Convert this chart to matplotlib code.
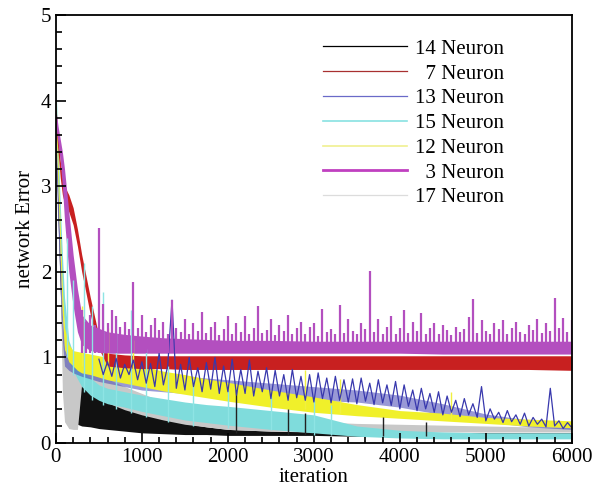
import numpy as np
import matplotlib
matplotlib.use('Agg')
import matplotlib.pyplot as plt
from matplotlib.lines import Line2D

plt.rcParams['font.family'] = ['Liberation Serif', 'DejaVu Serif']

iters = [0, 25, 50, 75, 100, 150, 200, 250, 300, 400, 500, 600, 800, 1000,
         1250, 1500, 1750, 2000, 2500, 3000, 3500, 4000, 4500, 5000, 5500, 6000]

# upper / lower edge of each noisy error trace
n14_hi = [3.9, 3.0, 2.2, 1.5, 1.1, 0.85, 0.80, 0.76, 0.72, 0.62, 0.55, 0.48, 0.40, 0.34,
          0.28, 0.23, 0.19, 0.16, 0.14, 0.13, 0.12, 0.12, 0.12, 0.12, 0.12, 0.12]
n14_lo = [3.6, 2.6, 1.8, 1.0, 0.5, 0.30, 0.25, 0.22, 0.20, 0.19, 0.17, 0.16, 0.14, 0.12,
          0.11, 0.10, 0.10, 0.09, 0.09, 0.09, 0.08, 0.08, 0.08, 0.08, 0.08, 0.08]

n7_hi = [3.9, 3.6, 3.3, 3.1, 3.0, 2.9, 2.75, 2.5, 2.2, 1.7, 1.25, 1.05, 1.03, 1.02,
         1.02, 1.02, 1.02, 1.02, 1.02, 1.02, 1.02, 1.02, 1.02, 1.02, 1.02, 1.02]
n7_lo = [3.7, 3.4, 3.1, 2.9, 2.8, 2.7, 2.55, 2.3, 2.0, 1.5, 1.1, 0.9, 0.88, 0.87,
         0.87, 0.86, 0.86, 0.86, 0.86, 0.86, 0.86, 0.86, 0.86, 0.86, 0.86, 0.85]

n13_hi = [3.6, 2.9, 2.2, 1.5, 1.1, 1.0, 0.95, 0.92, 0.90, 0.88, 0.86, 0.85, 0.84, 0.82,
          0.80, 0.78, 0.76, 0.74, 0.70, 0.66, 0.62, 0.56, 0.46, 0.34, 0.27, 0.21]
n13_lo = [3.2, 2.5, 1.8, 1.2, 0.9, 0.85, 0.82, 0.80, 0.78, 0.75, 0.72, 0.70, 0.66, 0.62,
          0.60, 0.58, 0.56, 0.55, 0.52, 0.50, 0.48, 0.42, 0.33, 0.25, 0.19, 0.16]

n15_hi = [4.2, 3.5, 2.8, 2.2, 1.7, 1.2, 1.05, 0.95, 0.85, 0.76, 0.68, 0.64, 0.60, 0.56,
          0.52, 0.48, 0.45, 0.43, 0.38, 0.33, 0.20, 0.15, 0.13, 0.12, 0.12, 0.12]
n15_lo = [3.8, 3.0, 2.3, 1.7, 1.3, 0.95, 0.85, 0.75, 0.66, 0.56, 0.50, 0.46, 0.42, 0.37,
          0.32, 0.27, 0.24, 0.21, 0.16, 0.12, 0.08, 0.06, 0.05, 0.05, 0.05, 0.05]

n12_hi = [4.1, 3.3, 2.5, 1.8, 1.35, 1.15, 1.08, 1.07, 1.06, 1.04, 1.02, 1.0, 0.95, 0.90,
          0.84, 0.80, 0.75, 0.71, 0.62, 0.54, 0.45, 0.38, 0.35, 0.30, 0.28, 0.26]
n12_lo = [3.8, 3.0, 2.2, 1.5, 1.1, 0.95, 0.9, 0.85, 0.82, 0.80, 0.77, 0.74, 0.70, 0.66,
          0.61, 0.57, 0.53, 0.49, 0.42, 0.36, 0.32, 0.29, 0.26, 0.23, 0.20, 0.18]

n3_hi = [3.9, 3.7, 3.55, 3.4, 3.2, 2.7, 2.2, 1.8, 1.5, 1.38, 1.34, 1.30, 1.27, 1.25,
         1.23, 1.22, 1.21, 1.20, 1.20, 1.19, 1.19, 1.19, 1.19, 1.19, 1.19, 1.19]
n3_lo = [3.7, 3.5, 3.3, 3.0, 2.6, 2.0, 1.6, 1.3, 1.15, 1.08, 1.06, 1.05, 1.05, 1.05,
         1.05, 1.05, 1.05, 1.05, 1.05, 1.05, 1.05, 1.05, 1.04, 1.04, 1.04, 1.04]

n17_hi = [4.0, 3.2, 2.3, 1.6, 1.2, 1.0, 0.95, 0.93, 0.90, 0.86, 0.80, 0.75, 0.66, 0.58,
          0.48, 0.40, 0.35, 0.31, 0.27, 0.25, 0.23, 0.22, 0.21, 0.20, 0.19, 0.18]
n17_lo = [3.5, 2.7, 1.9, 0.6, 0.25, 0.17, 0.16, 0.16, 0.70, 0.60, 0.53, 0.47, 0.39, 0.33,
          0.27, 0.22, 0.19, 0.16, 0.14, 0.14, 0.13, 0.13, 0.13, 0.13, 0.13, 0.13]

# 3 Neuron: peak of the trace every 50 iterations, from 300 to 6000
n3_peak = [1.55, 1.42, 1.50, 1.38, 2.51, 1.62, 1.40, 1.55, 1.48, 1.36,
           1.42, 1.33, 1.88, 1.35, 1.50, 1.30, 1.38, 1.46, 1.32, 1.42,
           1.28, 1.67, 1.34, 1.30, 1.45, 1.27, 1.40, 1.31, 1.53, 1.29,
           1.36, 1.42, 1.26, 1.33, 1.48, 1.28, 1.40, 1.30, 1.49, 1.27,
           1.35, 1.60, 1.29, 1.32, 1.45, 1.26, 1.38, 1.31, 1.50, 1.28,
           1.34, 1.42, 1.27, 1.36, 1.40, 1.25, 1.57, 1.30, 1.33, 1.28,
           1.61, 1.29, 1.45, 1.31, 1.27, 1.40, 1.33, 2.01, 1.30, 1.45,
           1.28, 1.36, 1.48, 1.27, 1.34, 1.56, 1.29, 1.42, 1.31, 1.52,
           1.27, 1.35, 1.40, 1.28, 1.38, 1.32, 1.26, 1.36, 1.30, 1.33,
           1.47, 1.68, 1.29, 1.44, 1.31, 1.27, 1.40, 1.33, 1.44, 1.28,
           1.35, 1.42, 1.30, 1.27, 1.38, 1.32, 1.45, 1.29, 1.40, 1.31,
           1.70, 1.34, 1.46, 1.30, 1.44]

# 13 Neuron: noisy trace sampled every 50 iterations, from 500 to 6000
n13_trace = [0.98, 0.80, 0.95, 0.78, 0.99, 0.76, 0.92, 0.80, 0.97, 0.74,
             0.95, 0.70, 0.93, 0.66, 1.05, 0.68, 0.90, 1.67, 0.64, 0.92,
             0.62, 1.00, 0.66, 0.88, 0.60, 0.94, 0.63, 1.00, 0.58, 0.90,
             0.60, 0.98, 0.56, 0.86, 0.58, 0.97, 0.55, 0.84, 0.60, 0.88,
             0.52, 0.85, 0.55, 0.80, 0.50, 0.86, 0.53, 0.78, 0.50, 0.80,
             0.48, 0.82, 0.52, 0.76, 0.47, 0.78, 0.50, 0.74, 0.48, 0.75,
             0.46, 0.76, 0.49, 0.70, 0.45, 0.74, 0.47, 0.68, 0.44, 0.72,
             0.40, 0.68, 0.43, 0.62, 0.38, 0.64, 0.40, 0.58, 0.36, 0.60,
             0.33, 0.55, 0.36, 0.50, 0.31, 0.52, 0.33, 0.46, 0.30, 0.66,
             0.26, 0.40, 0.28, 0.36, 0.24, 0.38, 0.25, 0.33, 0.22, 0.35,
             0.20, 0.30, 0.22, 0.28, 0.19, 0.64, 0.20, 0.26, 0.17, 0.24, 0.18]

# isolated spikes: iteration, bottom, top
n15_sx = [130, 200, 330, 420, 550, 700, 870, 1050, 1300, 1600, 2000, 2500, 3000, 3200]
n15_sb = [1.0, 0.8, 0.6, 0.5, 0.45, 0.4, 0.35, 0.3, 0.25, 0.2, 0.18, 0.15, 0.1, 0.1]
n15_st = [2.4, 1.9, 2.1, 1.6, 1.76, 1.45, 1.55, 1.1, 0.9, 0.75, 0.62, 0.55, 0.5, 0.45]

n12_sx = [300, 600, 900, 2900, 3300, 4600]
n12_sb = [0.90, 0.80, 0.70, 0.40, 0.35, 0.28]
n12_st = [1.60, 1.35, 1.20, 0.85, 0.75, 0.60]

n14_sx = [2100, 2700, 2900, 3800, 4300]
n14_sb = [0.12, 0.10, 0.10, 0.08, 0.08]
n14_st = [0.62, 0.40, 0.35, 0.30, 0.25]

labels = ['14 Neuron', '  7 Neuron', '13 Neuron', '15 Neuron', '12 Neuron',
          '  3 Neuron', '17 Neuron']

fig = plt.figure(figsize=(5.95, 4.99), dpi=100)
ax = fig.add_axes([0.094, 0.112, 0.867, 0.858])

# draw order: black, grey, cyan, blue band, yellow, blue trace, red, magenta
ax.fill_between(iters, n14_lo, n14_hi, color='#111111', lw=0)
ax.fill_between(iters, n17_lo, n17_hi, color='#c8c8c8', lw=0)
ax.vlines(n14_sx, n14_sb, n14_st, color='#222222', lw=1)
ax.fill_between(iters, n15_lo, n15_hi, color='#7fdcdc', lw=0)
ax.vlines(n15_sx, n15_sb, n15_st, color='#8ee4e4', lw=1)
ax.fill_between(iters, n13_lo, n13_hi, color='#4545b5', lw=0, alpha=0.55)
ax.fill_between(iters, n12_lo, n12_hi, color='#f0f02a', lw=0)
ax.vlines(n12_sx, n12_sb, n12_st, color='#f0f040', lw=1)
x13 = np.arange(500, 6001, 50)
ax.plot(x13, n13_trace, color='#3838ad', lw=0.9)
ax.fill_between(iters, n7_lo, n7_hi, color='#c82020', lw=0)
ax.fill_between(iters, n3_lo, n3_hi, color='#b34fbf', lw=0)
x3 = np.arange(300, 6001, 50)
ax.vlines(x3, 1.05, n3_peak, color='#b34fbf', lw=1.6)

ax.set_xlim(0, 6000)
ax.set_ylim(0, 5)
ax.set_xticks(range(0, 6001, 1000))
ax.set_xticks(range(0, 6001, 200), minor=True)
ax.set_yticks(range(0, 6))
ax.set_yticks(np.arange(0, 5.01, 0.2), minor=True)
ax.tick_params(which='both', direction='in', top=False, right=False,
               labelsize=15, width=1.2)
ax.tick_params(which='major', length=7)
ax.tick_params(which='minor', length=4)
for s in ax.spines.values():
    s.set_linewidth(1.3)
ax.set_xlabel('iteration', fontsize=15, labelpad=1)
ax.set_ylabel('network Error', fontsize=15, labelpad=4)

# legend
handles = [
    Line2D([], [], color='#000000', lw=0.9),
    Line2D([], [], color='#a83030', lw=0.9),
    Line2D([], [], color='#6a6ac8', lw=0.9),
    Line2D([], [], color='#88e2e2', lw=1.2),
    Line2D([], [], color='#f0f090', lw=1.2),
    Line2D([], [], color='#c040c0', lw=2.0),
    Line2D([], [], color='#dcdcdc', lw=0.9),
]
ax.legend(handles, labels, loc='upper right', bbox_to_anchor=(0.885, 0.963),
          frameon=False, fontsize=15, handlelength=4.0, handletextpad=0.4,
          labelspacing=0.25, borderaxespad=0)

fig.savefig('out.png', dpi=100)
